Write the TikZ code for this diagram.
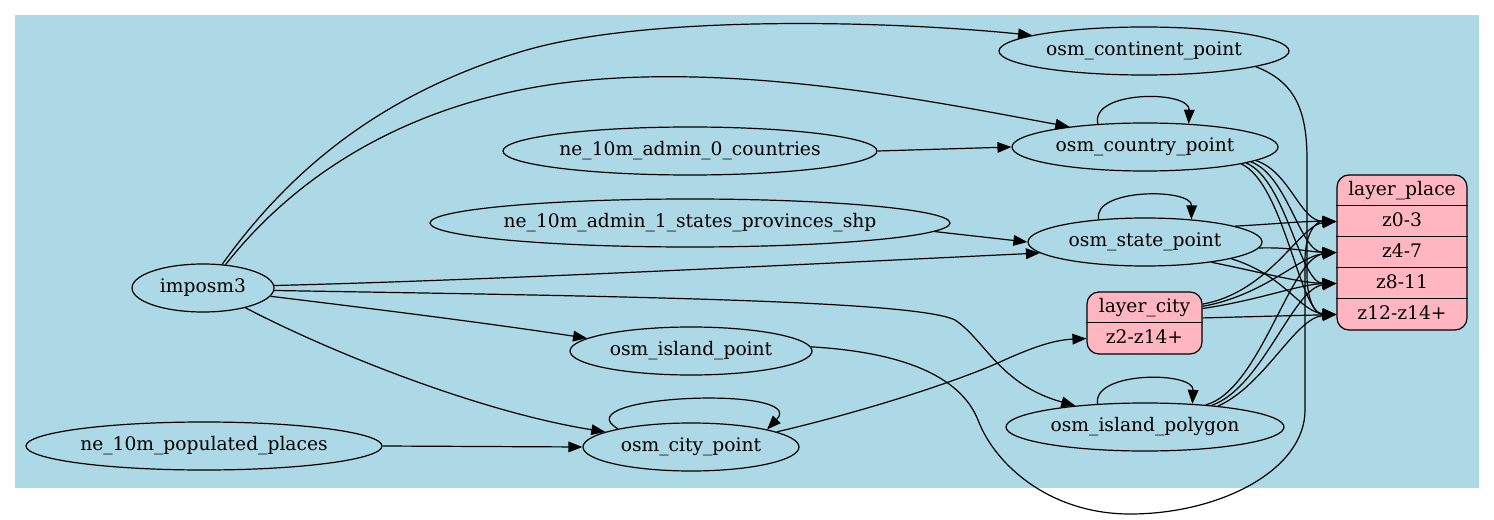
\documentclass[tikz,border=0pt]{standalone}
\usepackage{fontspec}
\setmainfont{DejaVu Serif}
\usetikzlibrary{shapes.geometric,arrows.meta}
\definecolor{bgblue}{HTML}{ADD8E6}
\definecolor{lpink}{HTML}{FFB6C1}
\newcommand{\nm}[1]{\makebox[0pt]{#1}}

\begin{document}
\begin{tikzpicture}[x=0.75pt,y=-0.75pt,line width=0.9pt,
		font=\fontsize{14pt}{17pt}\selectfont,
		txt/.style={text height=10pt,text depth=3pt},
		ell/.style={ellipse,draw,txt,inner sep=0pt,minimum height=36pt,minimum width=#1},
		lbox/.style={draw,fill=lpink,rounded corners=9pt,minimum width=#1},
		row/.style={txt,inner sep=0pt,minimum height=23.25pt,minimum width=#1},
		flow/.style={-{Triangle[length=10.5pt,width=8pt]}}]
		\useasboundingbox (0,0) rectangle (1494,520);
		\fill[bgblue] (15,15) rectangle (1479,488);

		\node[ell=106.5pt] (imposm3) at (203,288) {\nm{imposm3}};
		\node[ell=267pt] (pop) at (204,446) {\nm{ne\_10m\_populated\_places}};
		\node[ell=280.5pt] (adm0) at (690,151) {\nm{ne\_10m\_admin\_0\_countries}};
		\node[ell=390pt] (adm1) at (690,223) {\nm{ne\_10m\_admin\_1\_states\_provinces\_shp}};
		\node[ell=181.5pt] (islandpt) at (691,351) {\nm{osm\_island\_point}};
		\node[ell=162pt] (city) at (691,447) {\nm{osm\_city\_point}};
		\node[ell=217.5pt] (cont) at (1144,51) {\nm{osm\_continent\_point}};
		\node[ell=199.5pt] (country) at (1145,147) {\nm{osm\_country\_point}};
		\node[ell=175.5pt] (state) at (1145,242) {\nm{osm\_state\_point}};
		\node[ell=208.5pt] (islandpoly) at (1145,427) {\nm{osm\_island\_polygon}};

		\node[lbox=86.25pt,minimum height=46.5pt] (lcity) at (1144.5,323) {};
		\node[row=86.25pt] (lcityh) at (1144.5,307.5) {layer\_city};
		\node[row=86.25pt] (lcityb) at (1144.5,338.5) {z2-z14+};
		\draw (lcityb.north west) -- (lcityb.north east);

		\node[lbox=97.5pt,minimum height=116.25pt] (lplace) at (1402,252.5) {};
		\node[row=97.5pt] (lplaceh) at (1402,190.5) {layer\_place};
		\node[row=97.5pt] (z03) at (1402,221.5) {z0-3};
		\node[row=97.5pt] (z47) at (1402,252.5) {z4-7};
		\node[row=97.5pt] (z811) at (1402,283.5) {z8-11};
		\node[row=97.5pt] (z12) at (1402,314.5) {z12-z14+};
		\foreach \r in {z03,z47,z811,z12}
			\draw (\r.north west) -- (\r.north east);

		\draw[flow] (imposm3.51) .. controls (290,170) and (380,95) .. (520,52) .. controls (640,15) and (880,20) .. (cont.172);
		\draw[flow] (imposm3.46) .. controls (300,170) and (420,95) .. (590,80) .. controls (760,65) and (950,105) .. (country.165);
		\draw[flow] (imposm3.2) .. controls (500,280) and (850,262) .. (state.186);
		\draw[flow] (imposm3.-2) .. controls (600,296) and (915,300) .. (955,320) .. controls (985,340) and (1000,385) .. (islandpoly.163);
		\draw[flow] (imposm3.-7) .. controls (400,312) and (500,325) .. (islandpt.173);
		\draw[flow] (imposm3.-25) .. controls (330,352) and (480,412) .. (city.170);
		\draw[flow] (pop.east) -- (city.west);
		\draw[flow] (adm0.east) -- (country.west);
		\draw[flow] (adm1.-2) -- (state.west);
		\draw[flow] (city.10) .. controls (870,410) and (960,380) .. (1000,362) .. controls (1035,346) and (1055,340) .. (lcityb.west);

		\draw[flow] (country.154) .. controls (1090,90) and (1190,90) .. (country.28);
		\draw[flow] (state.154) .. controls (1092,188) and (1192,188) .. (state.26);
		\draw[flow] (islandpoly.154) .. controls (1092,371) and (1194,371) .. (islandpoly.26);
		\draw[flow] (city.166) .. controls (560,395) and (810,385) .. (city.13);

		\draw[flow] (country.-7) .. controls (1290,172) and (1300,221) .. (z03.west);
		\draw[flow] (country.-8) .. controls (1288,176) and (1300,252) .. (z47.west);
		\draw[flow] (country.-9) .. controls (1286,180) and (1300,283) .. (z811.west);
		\draw[flow] (country.-10) .. controls (1284,184) and (1300,314) .. (z12.west);

		\draw[flow] (state.10) .. controls (1275,224) and (1305,221) .. (z03.west);
		\draw[flow] (state.-3) .. controls (1290,247) and (1310,252) .. (z47.west);
		\draw[flow] (state.-17) .. controls (1260,272) and (1300,283) .. (z811.west);
		\draw[flow] (state.-11) .. controls (1285,275) and (1300,312) .. (z12.west);

		\draw[flow] (lcity.18) .. controls (1270,292) and (1300,225) .. (z03.west);
		\draw[flow] (lcity.16) .. controls (1265,295) and (1300,256) .. (z47.west);
		\draw[flow] (lcity.14) .. controls (1260,300) and (1300,284) .. (z811.west);
		\draw[flow] (lcity.5) -- (z12.west);

		\draw[flow] (islandpoly.20) .. controls (1260,390) and (1290,258) .. (z47.west);
		\draw[flow] (islandpoly.18) .. controls (1262,388) and (1293,288) .. (z811.west);
		\draw[flow] (islandpoly.16) .. controls (1265,385) and (1295,318) .. (z12.west);

		\draw[flow] (cont.-8) .. controls (1295,82) and (1307,110) .. (1307,160) -- (1307,275) .. controls (1307,300) and (1315,314) .. (z12.west);
		\draw[flow] (islandpt.2) .. controls (900,352) and (960,375) .. (978,420) .. controls (995,465) and (1050,514) .. (1130,514) .. controls (1220,514) and (1305,470) .. (1305,410) -- (1305,260) .. controls (1305,235) and (1315,221) .. (z03.west);
	\end{tikzpicture}
\end{document}
